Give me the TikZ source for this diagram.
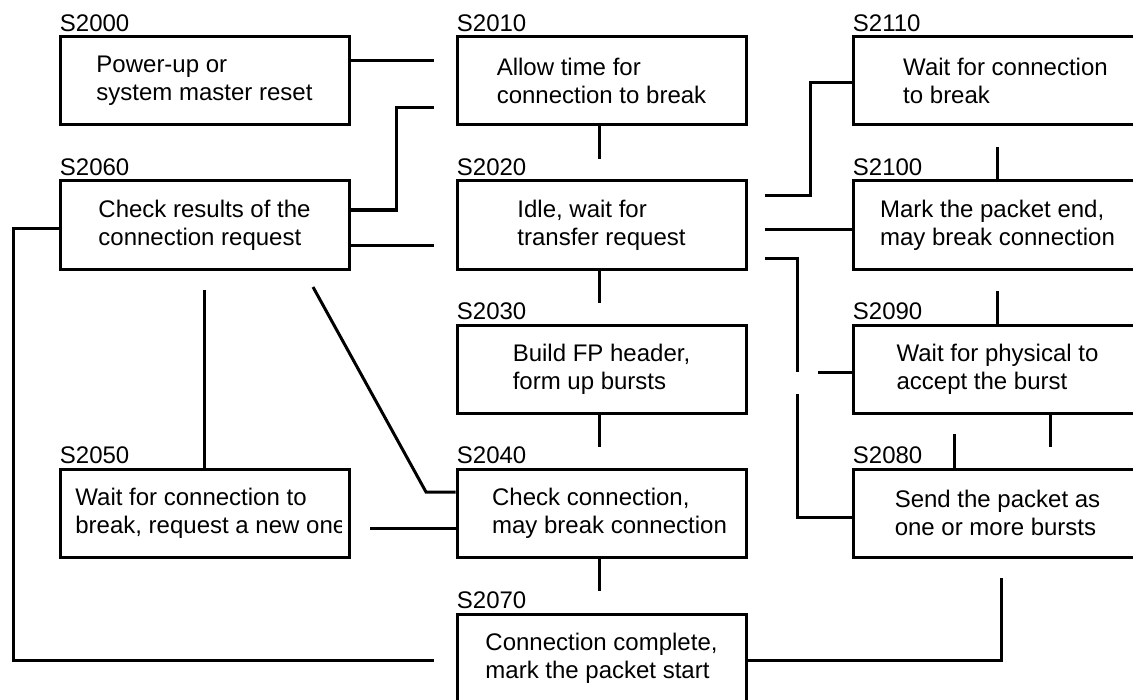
\documentclass[tikz,border=0pt]{standalone}
\usepackage{fontspec}
\setmainfont{Liberation Sans}
\begin{document}
\begin{tikzpicture}[x=0.5pt,y=-0.5pt,
  every node/.style={font=\fontsize{12}{14}\selectfont},
  box/.style={draw,line width=1.5pt,rectangle,minimum width=144.5pt,minimum height=44pt,inner sep=0pt,align=left},
  lab/.style={anchor=base west,inner sep=0pt,xshift=0.5pt,yshift=2pt},
  txt/.style={inner sep=0pt,align=left},
  conn/.style={line width=1.5pt}]
\useasboundingbox (0,0) rectangle (1133,700);
% boxes
\node[box] (s2000) at (204.5,81) {Power-up or\\system master reset};
\node[box] (s2010) at (601.5,81) {Allow time for\\connection to break};
\node[box] (s2110) at (997.5,81) {\hspace*{8pt}Wait for connection\\\hspace*{8pt}to break};
\node[box] (s2060) at (204.5,225) {Check results of the\\connection request};
\node[box] (s2020) at (601.5,225) {Idle, wait for\\transfer request};
\node[box] (s2100) at (997.5,225) {Mark the packet end,\\may break connection};
\node[box] (s2030) at (601.5,369) {Build FP header,\\form up bursts};
\node[box] (s2090) at (997.5,369) {Wait for physical to\\accept the burst};
\node[box] (s2050) at (204.5,513) {};
\begin{scope}
\clip (60,469) rectangle (341,557);
\node[txt,anchor=west] (t2050) at (75,513) {Wait for connection to\\break, request a new one};
\end{scope}
\node[box] (s2040) at (601.5,513) {\hspace*{8pt}Check connection,\\\hspace*{8pt}may break connection};
\node[box] (s2080) at (997.5,513) {Send the packet as\\one or more bursts};
\node[box] (s2070) at (601.5,658) {Connection complete,\\mark the packet start};
% labels
\node[lab] (l2000) at (s2000.north west) {S2000};
\node[lab] (l2010) at (s2010.north west) {S2010};
\node[lab] (l2110) at (s2110.north west) {S2110};
\node[lab] (l2060) at (s2060.north west) {S2060};
\node[lab] (l2020) at (s2020.north west) {S2020};
\node[lab] (l2100) at (s2100.north west) {S2100};
\node[lab] (l2030) at (s2030.north west) {S2030};
\node[lab] (l2090) at (s2090.north west) {S2090};
\node[lab] (l2050) at (s2050.north west) {S2050};
\node[lab] (l2040) at (s2040.north west) {S2040};
\node[lab] (l2080) at (s2080.north west) {S2080};
\node[lab] (l2070) at (s2070.north west) {S2070};
% free ends
\coordinate (e1) at (434,61);
\coordinate (e2) at (434,108);
\coordinate (e3) at (434,245);
\coordinate (e4) at (434,660);
\coordinate (e5) at (599,159);
\coordinate (e6) at (599,303);
\coordinate (e7) at (599,447);
\coordinate (e8) at (599,591);
\coordinate (e9) at (204,290);
\coordinate (e10) at (313,287);
\coordinate (e11) at (370,528);
\coordinate (e12) at (765,196);
\coordinate (e13) at (765,229);
\coordinate (e14a) at (765,258);
\coordinate (e14b) at (797,372);
\coordinate (e15) at (797,394);
\coordinate (e16) at (818,372);
\coordinate (e17) at (997,147);
\coordinate (e18) at (997,291);
\coordinate (e19) at (1050,447);
\coordinate (e20) at (954,434);
\coordinate (e21) at (1001,578);
% connectors
\draw[conn] (s2000.east |- e1) -- (e1);
\draw[conn] (s2060.east |- 0,210) -- (396,210) |- (e2);
\draw[conn] (s2060.east |- e3) -- (e3);
\draw[conn] (s2060.west |- 0,228) -- (13,228) |- (e4);
\draw[conn] (s2010.south -| e5) -- (e5);
\draw[conn] (s2020.south -| e6) -- (e6);
\draw[conn] (s2030.south -| e7) -- (e7);
\draw[conn] (s2040.south -| e8) -- (e8);
\draw[conn] (e9) -- (s2050.north -| e9);
\draw[conn] (e10) -- (426,492) -- (s2040.west |- 0,492);
\draw[conn] (e11) -- (s2040.west |- e11);
\draw[conn] (e12) -- (810,196) |- (s2110.west |- 0,83);
\draw[conn] (e13) -- (s2100.west |- e13);
\draw[conn] (e14a) -| (e14b);
\draw[conn] (e15) |- (s2080.west |- 0,517);
\draw[conn] (e16) -- (s2090.west |- e16);
\draw[conn] (e17) -- (s2100.north -| e17);
\draw[conn] (e18) -- (s2090.north -| e18);
\draw[conn] (s2090.south -| e19) -- (e19);
\draw[conn] (e20) -- (s2080.north -| e20);
\draw[conn] (e21) |- (s2070.east |- 0,660);
\end{tikzpicture}
\end{document}
